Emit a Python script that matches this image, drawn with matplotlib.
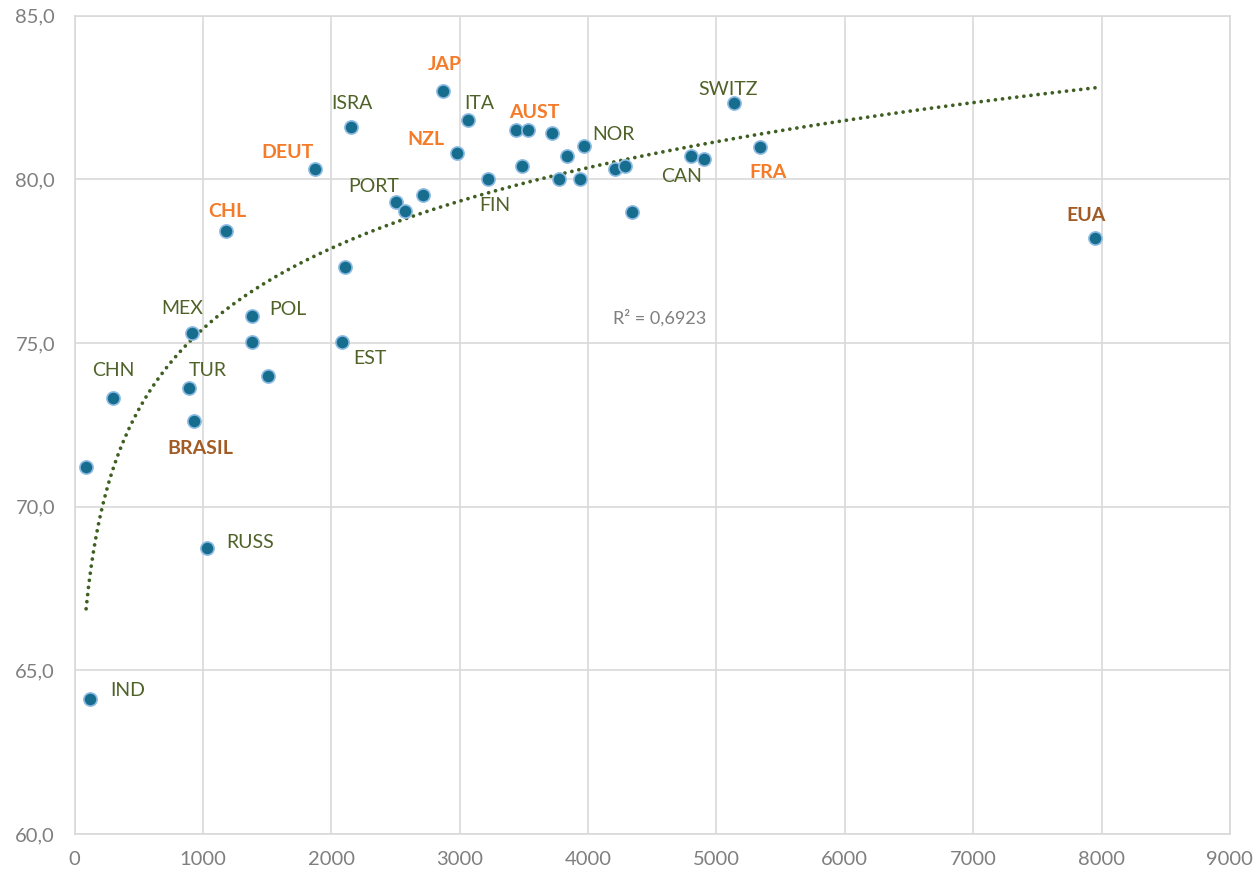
import numpy as np
import matplotlib
matplotlib.use("Agg")
import matplotlib.pyplot as plt

# spending per capita (x) vs life expectancy (y)
x_vals = [121, 90, 302, 913, 894, 933, 1029, 1385, 1385, 1504,
          2081, 1180, 1873, 2156, 2104, 2501, 2574, 2712, 2872, 3062,
          2977, 3218, 3436, 3535, 3716, 3483, 3838, 3971, 3776, 3937,
          4210, 4287, 4340, 4801, 4905, 5136, 5339, 7949]
y_vals = [64.12, 71.21, 73.31, 75.31, 73.62, 72.62, 68.73, 75.83, 75.02, 74.00,
          75.02, 78.41, 80.31, 81.60, 77.31, 79.32, 79.03, 79.52, 82.71, 81.81,
          80.81, 80.01, 81.51, 81.51, 81.41, 80.41, 80.71, 81.02, 80.01, 80.01,
          80.32, 80.41, 79.01, 80.71, 80.62, 82.32, 81.00, 78.21]
names = ["IND", "", "CHN", "MEX", "TUR", "BRASIL", "RUSS", "POL", "", "",
         "EST", "CHL", "DEUT", "ISRA", "", "PORT", "", "", "JAP", "ITA",
         "NZL", "FIN", "", "AUST", "", "", "", "NOR", "", "",
         "", "", "", "CAN", "", "SWITZ", "FRA", "EUA"]

# label offsets in pixels and label style group
offsets = {
    "JAP": (2, 26), "ISRA": (1, 24), "ITA": (12, 17), "AUST": (6, 17),
    "NZL": (-31, 13), "NOR": (29, 11), "SWITZ": (-6, 14), "DEUT": (-27, 17),
    "PORT": (-22, 15), "FIN": (7, -26), "CAN": (-9, -20), "FRA": (8, -26),
    "CHL": (1, 20), "EUA": (-9, 22), "MEX": (-10, 24), "POL": (36, 6),
    "CHN": (0, 28), "TUR": (18, 18), "EST": (28, -16), "BRASIL": (6, -28),
    "RUSS": (43, 6), "IND": (38, 9),
}
orange = ["JAP", "AUST", "NZL", "DEUT", "FRA", "CHL"]
brown = ["EUA", "BRASIL"]

plt.rcParams['font.family'] = ['Lato', 'DejaVu Sans']

fig = plt.figure(figsize=(12.55, 8.74), dpi=100)
ax = fig.add_axes([0.0594, 0.0458, 0.9206, 0.9362])

x = np.array(x_vals, dtype=float)
y = np.array(y_vals, dtype=float)

# logarithmic trend line
a, b = np.polyfit(np.log(x), y, 1)
xt = np.linspace(x.min(), x.max(), 400)
ax.plot(xt, a * np.log(xt) + b, color="#3F5F22", lw=2.7,
        linestyle=(0, (0.01, 1.9)), dash_capstyle="round", zorder=2)

ax.scatter(x, y, s=90, color="#176D8D", edgecolor="#8DBBE3", linewidth=1.2, zorder=3)

for xi, yi, nm in zip(x, y, names):
    if not nm:
        continue
    if nm in orange:
        col, fw = "#F47B29", "bold"
    elif nm in brown:
        col, fw = "#A15C26", "bold"
    else:
        col, fw = "#4F6228", "normal"
    ax.annotate(nm, (xi, yi), xytext=offsets[nm], textcoords="offset pixels",
                ha="center", va="center", fontsize=14, color=col, fontweight=fw, zorder=4)

ax.text(4560, 75.76, "R² = 0,6923", fontsize=13, color="#7F7F7F", ha="center", va="center")

ax.set_xlim(0, 9000)
ax.set_ylim(60, 85)
ax.set_xticks(range(0, 9001, 1000))
ax.set_yticks([60, 65, 70, 75, 80, 85])
ax.set_yticklabels([f"{v:.1f}".replace(".", ",") for v in [60, 65, 70, 75, 80, 85]])
ax.grid(True, color="#D9D9D9", lw=1.2)
ax.set_axisbelow(True)
for s in ax.spines.values():
    s.set_color("#D9D9D9")
    s.set_linewidth(1.2)
ax.tick_params(length=0, labelsize=14.5, labelcolor="#7F7F7F")
ax.tick_params(axis="y", pad=14)
ax.tick_params(axis="x", pad=12)

fig.savefig("out.png", dpi=100)
